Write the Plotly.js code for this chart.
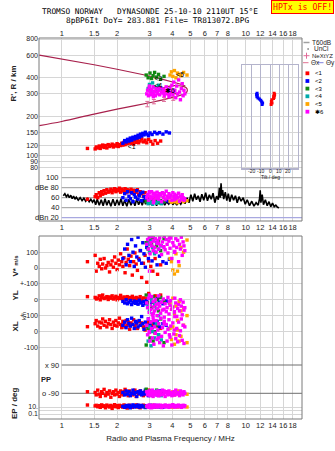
<!DOCTYPE html>
<html>
<head>
<meta charset="utf-8">
<script src="https://cdn.plot.ly/plotly-3.0.1.min.js"></script>
<style>html,body{margin:0;padding:0;background:#fff;}#chart{width:335px;height:451px;}</style>
</head>
<body>
<div id="chart"></div>
<script>
// ---------- frequency axis ticks ----------
const F_TICKS = [1,1.5,2,3,4,5,6,7,8,10,12,14,16,18];
const F_TEXT  = ['1','1.5','2','3','4','5','6','7','8','10','12','14','16','18'];
const H_TICKS = [800,600,400,300,200,150,120,100,90,80];
const H_TEXT  = ['800','600','400','300','200','150','120','100','90','80'];
const DB_LEVELS = [100,80,60,40];
const DB_LABELS = ['100','dBe 80','60','40'];
const DBN_LEVEL = 20;

// ---------- model profile (upper / lower branch with loop) ----------
const MODEL_UP_F = [0.755,1,1.5,2,2.5,3,3.5,4,4.4,4.7];
const MODEL_UP_H = [600,561,505,466,438,413,390,372,358,345];
const MODEL_LO_F = [0.755,1,1.5,2,2.5,3,3.5,4,4.4,4.7,4.82,4.75,4.5,4.1,3.7,3.45,3.55,3.85,4.2];
const MODEL_LO_H = [170,183,209,228,243,256,268,282,292,302,318,335,345,348,340,325,312,305,300];

// ---------- NeXtYZ points ----------
const NEX_F = [2.92,3.17,3.6,4.04];
const NEX_H = [250,261,272,277];
const NEX_E = [12,10,10,10];

// ---------- echoes: red (<1) ----------
const RED_F  = [1.38,1.52,1.54,1.57,1.60,1.62,1.65,1.67,1.70,1.73,1.76,1.79,1.82,1.85,1.88,1.91,1.94,1.97,2.00,2.03,2.06,2.09,2.12,2.15,2.18,2.21,2.24,2.27,2.30,2.34,2.38,2.42,2.46,2.50,2.54,2.58,2.62,2.67,2.72,2.78,2.84,2.90,2.97,3.05,3.13,3.22,3.32,3.45];
const RED_H  = [113,112,116,114,118,113,117,120,115,119,114,121,117,119,122,116,120,118,123,117,121,119,124,120,126,121,128,123,125,130,124,127,122,129,126,132,125,129,134,127,131,125,133,128,122,130,124,129];
const RED_DB = [57,62,66,60,70,64,72,67,74,69,76,71,73,77,70,75,78,72,76,74,79,71,77,75,73,78,70,76,74,72,77,69,75,73,71,76,66,72,68,63,70,61,58,55,60,54,57,52];
const RED_VS = [40,80,-20,30,10,55,-5,25,60,0,15,35,-25,20,45,5,70,30,-10,50,20,90,40,10,65,-30,35,120,55,15,75,-45,40,95,25,-15,60,110,-60,30,80,-90,45,10,-20,60,-40,20];
const RED_YL = [20,15,5,10,25,0,15,30,8,12,20,2,18,10,25,5,12,22,0,15,8,28,10,5,18,12,0,20,8,15,3,22,10,5,15,-5,10,20,0,12,-10,8,40,15,-15,25,5,30];
const RED_XL = [31,50,70,35,60,25,55,80,40,65,30,50,75,45,20,60,40,70,35,55,85,45,25,65,50,30,70,40,60,15,55,45,75,35,50,20,65,40,55,30,10,50,60,25,45,-10,35,20];
const RED_PP = [-80,-85,-100,-70,-95,-110,-80,-90,-65,-105,-85,-95,-75,-115,-90,-80,-100,-70,-95,-85,-110,-75,-90,-100,-80,-65,-95,-85,-105,-75,-90,-100,-80,-70,-110,-85,-95,-75,-90,-105,-80,-95,-70,-100,-85,-90,-75,-95];
const RED_EP = [37,20,30,12,25,8,40,15,22,6,35,18,10,28,4,16,45,12,24,7,30,14,20,9,38,11,26,5,18,32,13,8,22,15,40,10,27,6,19,33,12,24,8,16,29,11,21,14];

// ---------- blue (<2) ----------
const BLUE_F  = [2.15,2.2,2.24,2.28,2.32,2.36,2.4,2.44,2.48,2.52,2.56,2.6,2.64,2.68,2.72,2.76,2.8,2.85,2.9,2.96,3.02,3.1,3.2,3.3,3.4,3.55,3.7,3.85];
const BLUE_H  = [124,130,127,133,129,136,131,138,134,140,136,143,138,146,141,148,144,151,146,142,149,145,151,147,150,146,152,149];
const BLUE_DB = [60,68,55,72,63,58,70,52,66,61,74,57,64,69,54,71,62,58,53,56,50,55,52,57,53,51,54,52];
const BLUE_VS = [60,120,20,150,80,40,180,100,10,140,70,195,50,110,30,160,90,5,130,60,170,45,100,20,75,40,30,55];
const BLUE_YL = [-10,-20,0,-25,-15,-5,-30,-18,-8,-22,-12,-28,-3,-20,-15,-35,-10,-25,-5,-18,-30,-12,-22,5,-15,-25,-8,-20];
const BLUE_XL = [40,60,25,75,50,35,85,45,20,65,55,30,70,40,95,50,15,60,35,80,45,25,55,65,30,50,40,20];
const BLUE_PP = [-85,-100,-75,-95,-80,-105,-90,-70,-95,-85,-110,-80,-90,-75,-100,-85,-95,-70,-90,-105,-80,-95,-85,-100,-75,-90,-80,-95];
const BLUE_EP = [15,8,25,12,30,6,18,40,10,22,14,35,9,20,28,11,16,7,24,13,32,10,19,27,12,8,21,15];

// ---------- green (<3) ----------
const GREEN_F  = [2.88,2.95,3.02,3.08,3.14,3.2,3.28,3.36,3.45,3.6];
const GREEN_H  = [420,400,435,395,415,440,405,425,390,410];
const GREEN_DB = [52,55,50,54,51,53,56,50,54,52];
const GREEN_VS = [160,120,180,150,190,130,140,170,110,185];
const GREEN_YL = [30,-20,10,-50,20,-35,0,-70,15,-10];
const GREEN_XL = [-85,20,-40,60,-60,0,40,-20,80,-70];
const GREEN_PP = [-64,-95,-75,-100,-85,-90,-70,-95,-85,-80];
const GREEN_EP = [12,20,8,15,25,10,18,9,14,22];

// ---------- cyan (<4) ----------
const CYAN_F  = [2.95,3.0,3.06,3.12,3.2,3.28,3.36,3.48];
const CYAN_H  = [330,355,320,365,340,315,350,330];
const CYAN_DB = [48,52,50,47,51,49,53,48];
const CYAN_VS = [150,100,170,130,90,160,120,140];
const CYAN_YL = [-40,-70,0,-90,-25,-55,-100,-15];
const CYAN_XL = [-60,30,-90,0,-40,50,-20,-53];
const CYAN_PP = [-90,-80,-100,-85,-95,-75,-90,-105];
const CYAN_EP = [10,18,8,25,12,15,9,20];

// ---------- orange (<5) ----------
const ORANGE_F  = [3.88,3.95,4.02,4.1,4.18,4.26,4.35,4.45,4.6,4.8];
const ORANGE_H  = [420,445,410,455,400,435,425,415,440,420];
const ORANGE_DB = [53,51,55,52,54,50,53,55,52,54];
const ORANGE_VS = [60,40,-13,-38,90,-20,15,130,100,177];
const ORANGE_YL = [-20,-60,10,-90,-40,-130,-10,-70,-50,-100];
const ORANGE_XL = [20,-50,30,-80,-20,10,-60,-30,40,-70];
const ORANGE_PP = [-85,-95,-80,-100,-90,-75,-95,-85,-90,-96];
const ORANGE_EP = [10,15,8,20,12,9,18,11,14,10];

// ---------- magenta (6) ----------
const MAG_F  = [2.9,2.93,2.96,2.99,3.02,3.05,3.08,3.11,3.14,3.17,3.2,3.23,3.26,3.3,3.33,3.37,3.41,3.45,3.49,3.53,3.57,3.61,3.65,3.7,3.74,3.78,3.83,3.88,3.92,3.97,4.02,4.07,4.12,4.17,4.22,4.27,4.32,4.37,4.42,4.47,4.52,4.57,4.62,4.67,3.0,3.15,3.35,3.6,3.85,4.1];
const MAG_H  = [300,320,290,335,310,295,325,305,340,300,315,290,330,310,300,320,295,335,310,305,325,290,315,340,300,320,285,330,310,350,295,370,320,280,345,300,385,310,270,330,360,290,320,300,345,285,330,305,295,315];
const MAG_DB = [60,66,55,70,63,58,72,61,67,54,69,64,59,71,62,57,68,65,52,70,60,66,56,73,63,59,68,61,65,55,70,62,67,58,64,60,69,53,63,57,66,60,55,58,72,50,64,68,61,56];
const MAG_VS = [150,180,120,195,90,160,140,200,110,170,130,185,100,155,175,120,190,145,85,165,135,200,115,180,150,95,170,125,190,60,160,140,105,185,130,175,40,150,120,195,80,165,140,110,-20,175,155,130,190,100];
const MAG_YL = [-20,-50,10,-80,-35,-60,20,-95,-10,-45,-70,0,-30,-100,-55,25,-40,-85,-15,-65,5,-110,-25,-75,-50,15,-90,-35,-5,-60,-45,-80,10,-20,-105,-55,-30,-70,0,-40,-95,-15,-65,-50,30,-85,-25,-60,-10,-75];
const MAG_XL = [40,-20,80,0,-60,60,20,-40,90,-80,30,-10,70,-50,10,50,-70,85,-30,25,-90,65,-5,45,-60,15,75,-35,35,-85,55,-15,95,-45,20,-65,60,-25,5,80,-55,40,-75,30,-5,70,-40,50,-20,10];
const MAG_PP = [-80,-100,-90,-75,-105,-85,-95,-70,-110,-90,-80,-100,-85,-95,-75,-105,-90,-80,-100,-70,-95,-85,-110,-80,-90,-100,-75,-95,-85,-105,-90,-80,-100,-70,-95,-85,-90,-105,-75,-95,-85,-100,-80,-90,-95,-85,-105,-75,-90,-100];
const MAG_EP = [15,25,8,35,12,20,6,30,18,10,40,14,22,9,28,16,11,33,7,24,19,13,38,10,26,17,8,30,21,12,45,15,9,27,18,11,35,14,23,8,20,31,12,25,16,10,29,13,22,18];

// ---------- noise level (dBn) trace ----------
const DBN_F = [1.02,1.04,1.06,1.08,1.10,1.12,1.14,1.16,1.18,1.20,
 1.23,1.26,1.29,1.32,1.35,1.38,1.41,1.44,1.47,1.50,
 1.53,1.56,1.60,1.64,1.68,1.72,1.76,1.80,1.85,1.90,
 1.95,2.00,2.05,2.10,2.15,2.20,2.26,2.32,2.38,2.44,
 2.50,2.56,2.62,2.68,2.74,2.80,2.86,2.92,2.98,3.05,
 3.12,3.20,3.28,3.36,3.45,3.54,3.63,3.72,3.82,3.92,
 4.02,4.12,4.22,4.33,4.44,4.56,4.68,4.80,4.92,5.04,
 5.16,5.28,5.40,5.52,5.65,5.78,5.92,6.06,6.20,6.35,
 6.50,6.65,6.80,6.95,7.10,7.20,7.28,7.35,7.42,7.50,
 7.60,7.75,7.90,8.05,8.20,8.40,8.60,8.80,9.00,9.20,
 9.45,9.70,9.95,10.2,10.5,10.8,11.1,11.4,11.7,11.9,
 12.0,12.1,12.3,12.5,12.8,13.1,13.4,13.7,14.0,14.3,
 14.6,14.9,15.2];
const DBN_DB = [64,68,62,66,60,65,58,63,57,61,
 55,60,54,59,53,58,52,57,51,56,
 46,57,45,56,44,58,45,55,43,57,
 44,56,45,58,44,55,43,57,45,56,
 44,58,46,55,45,57,47,54,46,53,
 45,52,44,54,46,53,45,52,47,54,
 46,52,45,53,47,55,48,60,50,66,
 53,68,56,64,52,67,55,70,54,66,
 57,69,50,63,56,80,60,89,64,75,
 57,71,54,68,52,66,55,64,50,62,
 53,60,47,56,44,53,43,50,45,58,
 75,50,66,46,56,44,52,42,49,42,
 45,41,40];

// ---------- tilt inset ----------
const TILT_RED_X  = [4.5,5,4.6,4,4.4,3.8,2,1.5,2.2,1.2];
const TILT_RED_H  = [303,297,291,286,281,276,270,262,255,248];
const TILT_BLUE_X = [-14,-14.5,-13.8,-14.2,-13,-11.5,-10,-9,-8,-8.5];
const TILT_BLUE_H = [303,297,291,285,279,273,267,261,255,248];
const TILT_TICKS = [-20,-10,0,10,20];

// ---------- echo labels in the height panel ----------
const LBL_F = [2.4,3.35,3.35,4.4,3.88];
const LBL_H = [115,389,341,420,312];
const LBL_T = ['<1','<3','<4','<5','\u27316'];

// ---------- legend ----------
const LEG_CLASSES = ['<1','<2','<3','<4','<5','\u27316'];
const COLORS = {red:'#ff0000', blue:'#0000ff', green:'#118811', cyan:'#00aaaa', orange:'#ffa500', mag:'#ff00ff'};
const LEG_COLORS = [COLORS.red, COLORS.blue, COLORS.green, COLORS.cyan, COLORS.orange, COLORS.mag];

// ================= layout helpers =================
const T=38, B=419, L=39, R=302;
const py = p => (B - p)/(B - T);
const px = p => (p - L)/(R - L);
const FONT = 'Liberation Sans, Arial, sans-serif';
const MONO = 'DejaVu Sans Mono, monospace';

const groups = [
  {F:RED_F,H:RED_H,DB:RED_DB,VS:RED_VS,YL:RED_YL,XL:RED_XL,PP:RED_PP,EP:RED_EP,c:COLORS.red},
  {F:BLUE_F,H:BLUE_H,DB:BLUE_DB,VS:BLUE_VS,YL:BLUE_YL,XL:BLUE_XL,PP:BLUE_PP,EP:BLUE_EP,c:COLORS.blue},
  {F:GREEN_F,H:GREEN_H,DB:GREEN_DB,VS:GREEN_VS,YL:GREEN_YL,XL:GREEN_XL,PP:GREEN_PP,EP:GREEN_EP,c:COLORS.green},
  {F:CYAN_F,H:CYAN_H,DB:CYAN_DB,VS:CYAN_VS,YL:CYAN_YL,XL:CYAN_XL,PP:CYAN_PP,EP:CYAN_EP,c:COLORS.cyan},
  {F:ORANGE_F,H:ORANGE_H,DB:ORANGE_DB,VS:ORANGE_VS,YL:ORANGE_YL,XL:ORANGE_XL,PP:ORANGE_PP,EP:ORANGE_EP,c:COLORS.orange},
  {F:MAG_F,H:MAG_H,DB:MAG_DB,VS:MAG_VS,YL:MAG_YL,XL:MAG_XL,PP:MAG_PP,EP:MAG_EP,c:COLORS.mag}
];

const traces = [];
const MS = 3.4;
function pts(x, y, c, xa, ya){
  return {type:'scatter', mode:'markers', x:x, y:y, xaxis:xa, yaxis:ya, hoverinfo:'skip',
    marker:{symbol:'square', size:MS, color:c, line:{width:0}}, cliponaxis:true};
}

// ---- height panel ----
traces.push({type:'scatter', mode:'lines', x:MODEL_UP_F, y:MODEL_UP_H, xaxis:'x', yaxis:'y',
  line:{color:'#a8204c', width:1.2}, hoverinfo:'skip'});
traces.push({type:'scatter', mode:'lines', x:MODEL_LO_F, y:MODEL_LO_H, xaxis:'x', yaxis:'y',
  line:{color:'#a8204c', width:1.2, shape:'spline'}, hoverinfo:'skip'});
traces.push({type:'scatter', mode:'markers', x:NEX_F, y:NEX_H, xaxis:'x', yaxis:'y',
  marker:{size:1, color:'#e06a98'}, error_y:{type:'data', array:NEX_E, color:'#e06a98', thickness:1, width:2},
  hoverinfo:'skip'});
groups.forEach(g => traces.push(pts(g.F, g.H, g.c, 'x', 'y')));
traces.push({type:'scatter', mode:'text', x:LBL_F, y:LBL_H, text:LBL_T, xaxis:'x', yaxis:'y',
  textfont:{family:FONT, size:7, color:'#000'}, hoverinfo:'skip'});

// ---- dBe panel ----
DB_LEVELS.forEach(v => traces.push({type:'scatter', mode:'lines', x:[1,30], y:[v,v], xaxis:'x2', yaxis:'y2',
  line:{color:'#9a9a9a', width:1}, hoverinfo:'skip'}));
traces.push({type:'scatter', mode:'lines', x:[1,30], y:[DBN_LEVEL,DBN_LEVEL], xaxis:'x2', yaxis:'y2',
  line:{color:'#a8a8e0', width:1.2}, hoverinfo:'skip'});
traces.push({type:'scatter', mode:'lines', x:DBN_F, y:DBN_DB, xaxis:'x2', yaxis:'y2',
  line:{color:'#000', width:1.6}, hoverinfo:'skip'});
groups.forEach(g => traces.push(pts(g.F, g.DB, g.c, 'x2', 'y2')));

// ---- V*, YL, XL, PP, EP ----
groups.forEach(g => traces.push(pts(g.F, g.VS, g.c, 'x3', 'y3')));
groups.forEach(g => traces.push(pts(g.F, g.YL, g.c, 'x3', 'y4')));
groups.forEach(g => traces.push(pts(g.F, g.XL, g.c, 'x3', 'y5')));
[90,-90].forEach(v => traces.push({type:'scatter', mode:'lines', x:[1,30], y:[v,v], xaxis:'x3', yaxis:'y6',
  line:{color:'#6e6e6e', width:1}, hoverinfo:'skip'}));
groups.forEach(g => traces.push(pts(g.F, g.PP, g.c, 'x3', 'y6')));
groups.forEach(g => traces.push(pts(g.F, g.EP, g.c, 'x3', 'y7')));

// ---- tilt inset ----
traces.push({type:'scatter', mode:'lines+markers', x:TILT_BLUE_X, y:TILT_BLUE_H, xaxis:'x4', yaxis:'y8',
  line:{color:COLORS.blue, width:1.5}, marker:{symbol:'square', size:3, color:COLORS.blue}, hoverinfo:'skip'});
traces.push({type:'scatter', mode:'lines+markers', x:TILT_RED_X, y:TILT_RED_H, xaxis:'x4', yaxis:'y8',
  line:{color:COLORS.red, width:1.5}, marker:{symbol:'square', size:3, color:COLORS.red}, hoverinfo:'skip'});

// ================= axes =================
const XR = [Math.log10(0.7525), Math.log10(20.25)];
const xBase = {type:'log', range:XR, tickmode:'array', tickvals:F_TICKS, ticktext:F_TEXT, tickangle:0,
  showgrid:true, gridcolor:'#d6d6d6', gridwidth:1, zeroline:false, showline:false, ticks:'',
  tickfont:{family:FONT, size:7.5, color:'#222'}, fixedrange:true};
const yBase = {zeroline:false, showline:false, ticks:'', gridcolor:'#d6d6d6', gridwidth:1,
  tickfont:{family:FONT, size:7, color:'#222'}, fixedrange:true, tickmode:'array'};
const sc = 0.158; // px per unit for V*, YL, XL

const layout = {
  width:335, height:451,
  margin:{l:L, r:335-R, t:T, b:451-B, pad:0},
  paper_bgcolor:'#fff', plot_bgcolor:'rgba(0,0,0,0)',
  showlegend:false,
  font:{family:FONT, size:8, color:'#222'},
  xaxis: Object.assign({}, xBase, {anchor:'y', side:'top', domain:[0,1]}),
  xaxis2: Object.assign({}, xBase, {anchor:'y2', domain:[0,1]}),
  xaxis3: Object.assign({}, xBase, {anchor:'y7', domain:[0,1],
    title:{text:'Radio and Plasma Frequency / MHz', font:{family:FONT, size:8, color:'#222'}, standoff:6}}),
  yaxis: Object.assign({}, yBase, {type:'log', anchor:'x', domain:[py(172),1],
    range:[1.870, 2.911], tickvals:H_TICKS, ticktext:H_TEXT}),
  yaxis2: Object.assign({}, yBase, {anchor:'x2', domain:[py(221),py(172)], range:[13.4,111.4],
    showgrid:false, showticklabels:false}),
  yaxis3: Object.assign({}, yBase, {anchor:'x3', domain:[py(291),py(236)],
    range:[(268-291)/sc, (268-236)/sc], tickvals:[100,0,-100], ticktext:['100','0','+-100']}),
  yaxis4: Object.assign({}, yBase, {anchor:'x3', domain:[py(330),py(270)],
    range:[(299.8-330)/sc, (299.8-270)/sc], tickvals:[0,-100], ticktext:['o','+-100']}),
  yaxis5: Object.assign({}, yBase, {anchor:'x3', domain:[py(360),py(300)],
    range:[(331.6-360)/sc, (331.6-300)/sc], tickvals:[0,-100], ticktext:['0','-100']}),
  yaxis6: Object.assign({}, yBase, {anchor:'x3', domain:[py(402),py(355)],
    range:[-90-(402-393.3)/0.1572, 90+(365-355)/0.1572], showgrid:false, showticklabels:false}),
  yaxis7: Object.assign({}, yBase, {type:'log', anchor:'x3', domain:[0,py(400)],
    range:[-2.43, 3.0], tickvals:[10,1,0.1], ticktext:['10.','','0.1']}),
  xaxis4: {anchor:'y8', domain:[px(242.3), px(297.7)], range:[-30,30], tickmode:'array',
    tickvals:TILT_TICKS, showticklabels:false, showgrid:true, gridcolor:'#b4b4cc',
    showline:true, mirror:true, linecolor:'#b4b4cc', linewidth:1.2, zeroline:false, ticks:'', fixedrange:true},
  yaxis8: {type:'log', anchor:'x4', domain:[py(168.3), py(65)], range:[1.899, 2.701],
    showgrid:false, showticklabels:false, showline:true, mirror:true, linecolor:'#b4b4cc',
    linewidth:1.2, zeroline:false, ticks:'', fixedrange:true},
  shapes:[], annotations:[]
};

// frames
layout.shapes.push({type:'rect', xref:'paper', yref:'paper', x0:0, x1:1, y0:py(221), y1:1,
  line:{color:'#7a7a7a', width:1}, fillcolor:'rgba(0,0,0,0)'});
layout.shapes.push({type:'rect', xref:'paper', yref:'paper', x0:0, x1:1, y0:0, y1:py(236),
  line:{color:'#7a7a7a', width:1}, fillcolor:'rgba(0,0,0,0)'});

const A = (text, x, y, o) => Object.assign({text:text, x:x, y:y, xref:'paper', yref:'paper',
  showarrow:false, font:{family:FONT, size:8, color:'#222'}, xanchor:'center', yanchor:'middle'}, o||{});

// header
layout.annotations.push(A('TROMSO NORWAY\u00a0\u00a0\u00a0DYNASONDE 25-10-10 2110UT 15\u00b0E', px(150), py(11.3),
  {font:{family:MONO, size:7.8, color:'#000'}}));
layout.annotations.push(A('8pBP6It DoY= 283.881 File= TR813072.BPG', px(157.5), py(21),
  {font:{family:MONO, size:7.8, color:'#000'}}));
layout.annotations.push(A('HPTx is OFF!', px(302.3), py(7), {font:{family:MONO, size:8.2, color:'#ff0000'},
  bgcolor:'#ffff00', bordercolor:'#ff0000', borderwidth:1, borderpad:1}));

// axis titles
const rot = {textangle:-90, font:{family:FONT, size:8, color:'#222', weight:'bold'}};
layout.annotations.push(A("R', R / km", px(13.5), py(84), rot));
layout.annotations.push(A('V* <span style="font-size:6px">m/s</span>', px(14.5), py(266), rot));
layout.annotations.push(A('YL', px(14.5), py(296), rot));
layout.annotations.push(A('km', px(24), py(316), {textangle:-90, font:{family:FONT, size:6, color:'#222'}}));
layout.annotations.push(A('XL', px(14.5), py(327), rot));
layout.annotations.push(A('EP / deg', px(14), py(403), rot));

// dBe labels (inside plot, right-aligned at f = 1)
DB_LEVELS.forEach((v,i) => layout.annotations.push({text:DB_LABELS[i], xref:'x2', yref:'y2',
  x:0, y:v, xanchor:'right', yanchor:'middle', showarrow:false, xshift:-1,
  font:{family:FONT, size:7.5, color:'#222'}}));
layout.annotations.push({text:'dBn 20', xref:'x2', yref:'y2', x:0, y:DBN_LEVEL, xanchor:'right',
  yanchor:'middle', showarrow:false, xshift:-1, font:{family:FONT, size:7.5, color:'#222'}});
// PP labels
layout.annotations.push({text:'x 90', xref:'x3', yref:'y6', x:0, y:90, xanchor:'right', yanchor:'middle',
  showarrow:false, xshift:-1, font:{family:FONT, size:7.5, color:'#222'}});
layout.annotations.push({text:'o -90', xref:'x3', yref:'y6', x:0, y:-90, xanchor:'right', yanchor:'middle',
  showarrow:false, xshift:-1, font:{family:FONT, size:7.5, color:'#222'}});
layout.annotations.push(A('PP', px(46), py(379), {font:{family:FONT, size:7.5, color:'#222', weight:'bold'}}));

// tilt tick labels and title (placed on the inset's own x scale)
TILT_TICKS.forEach(v => layout.annotations.push({text:String(v), xref:'x4', yref:'paper', x:v, y:py(171.2),
  xanchor:'center', yanchor:'middle', showarrow:false, font:{family:FONT, size:5, color:'#222'}}));
layout.annotations.push(A('Tilt / deg', px(270), py(177.2), {font:{family:FONT, size:5, color:'#222'}}));

// legend
const lx = p => px(p);
const LF = {family:FONT, size:6.5, color:'#222'};
layout.shapes.push({type:'line', xref:'paper', yref:'paper', x0:lx(303.5), x1:lx(309.5), y0:py(42.5), y1:py(42.5),
  line:{color:'#a0a0a0', width:1.5}});
layout.annotations.push(A('T60dB', lx(310), py(42.5), {xanchor:'left', font:LF}));
layout.shapes.push({type:'rect', xref:'paper', yref:'paper', x0:lx(307.5), x1:lx(308.7), y0:py(49.6), y1:py(48.4),
  line:{width:0}, fillcolor:'#000'});
layout.annotations.push(A('UnCl', lx(311.5), py(49), {xanchor:'left', font:LF}));
layout.shapes.push({type:'line', xref:'paper', yref:'paper', x0:lx(303.5), x1:lx(309.5), y0:py(55.7), y1:py(55.7),
  line:{color:'#e06a98', width:1}});
layout.shapes.push({type:'line', xref:'paper', yref:'paper', x0:lx(306.5), x1:lx(306.5), y0:py(52.7), y1:py(58.7),
  line:{color:'#e06a98', width:1}});
layout.annotations.push(A('NeXtYZ', lx(309.5), py(55.7), {xanchor:'left', font:{family:FONT, size:6, color:'#222'}}));
layout.shapes.push({type:'line', xref:'paper', yref:'paper', x0:lx(303), x1:lx(308.5), y0:py(62.7), y1:py(62.7),
  line:{color:'#e07090', width:1}});
layout.annotations.push(A('\u0398x', lx(308.5), py(62.7), {xanchor:'left', font:LF}));
layout.shapes.push({type:'line', xref:'paper', yref:'paper', x0:lx(317.5), x1:lx(323.5), y0:py(62.7), y1:py(62.7),
  line:{color:'#8080e0', width:1}});
layout.annotations.push(A('\u0398y', lx(323.5), py(62.7), {xanchor:'left', font:LF}));
const LEG_Y = [73.3,81,88.6,96.3,104,111.7];
LEG_CLASSES.forEach((t,i) => {
  layout.shapes.push({type:'rect', xref:'paper', yref:'paper', x0:lx(305.5), x1:lx(309.3),
    y0:py(LEG_Y[i]+1.9), y1:py(LEG_Y[i]-1.9), line:{width:0}, fillcolor:LEG_COLORS[i]});
  layout.annotations.push(A(t, lx(312.5), py(LEG_Y[i]), {xanchor:'left', font:{family:FONT, size:6, color:'#000'}}));
});

Plotly.newPlot('chart', traces, layout, {staticPlot:true, displayModeBar:false});
</script>
</body>
</html>
